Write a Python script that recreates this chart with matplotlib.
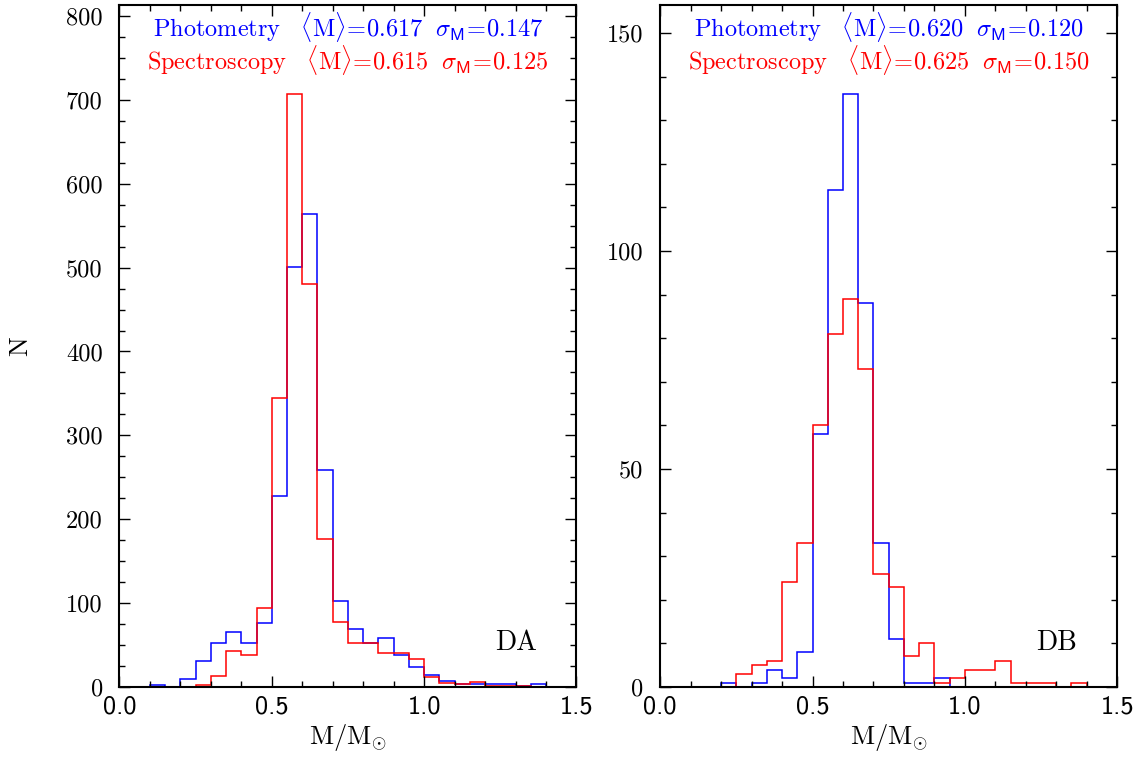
import numpy as np
import matplotlib
matplotlib.use("Agg")
import matplotlib.pyplot as plt
from matplotlib.ticker import MultipleLocator

plt.rcParams["mathtext.fontset"] = "cm"

# Mass bins (M/Msun), 0.05 wide
edges = np.round(np.arange(0.0, 1.5001, 0.05), 2)

# DA white dwarfs: counts per bin
da_phot = [0, 0, 2, 0, 9, 31, 52, 66, 52, 76, 228, 501, 564, 259, 103,
           69, 53, 58, 38, 24, 14, 7, 4, 4, 3, 3, 1, 3, 0, 0]
da_spec = [0, 0, 0, 0, 0, 2, 13, 43, 38, 94, 345, 707, 481, 177, 77,
           52, 53, 41, 40, 33, 12, 5, 4, 6, 1, 1, 1, 0, 0, 0]

# DB white dwarfs: counts per bin
db_phot = [0, 0, 0, 0, 1, 0, 1, 4, 2, 8, 58, 114, 136, 88, 33,
           11, 1, 1, 2, 0, 0, 0, 0, 0, 0, 0, 0, 0, 0, 0]
db_spec = [0, 0, 0, 0, 0, 3, 5, 6, 24, 33, 60, 81, 89, 73, 26,
           23, 7, 10, 1, 2, 4, 4, 6, 1, 1, 1, 0, 1, 0, 0]

panel_names = ["DA", "DB"]
phot_mean = ["0.617", "0.620"]
phot_sigma = ["0.147", "0.120"]
spec_mean = ["0.615", "0.625"]
spec_sigma = ["0.125", "0.150"]

BLUE = "#0000ff"
RED = "#ff0000"

fig = plt.figure(figsize=(11.41, 7.70), dpi=100)
ax_da = fig.add_axes([0.1047, 0.1078, 0.4005, 0.8857])
ax_db = fig.add_axes([0.5786, 0.1078, 0.4005, 0.8857])

panels = [
    (ax_da, da_phot, da_spec, 100, 25),
    (ax_db, db_phot, db_spec, 50, 10),
]


def stat_label(name, mean, sigma):
    return (r"$\mathrm{" + name + r"}\ \ \ \langle\mathrm{M}\rangle\!=\!\mathsf{"
            + mean + r"}\ \ \sigma_{\mathsf{M}}\!=\!\mathsf{" + sigma + r"}$")


for i, (ax, phot, spec, ymaj, ymin) in enumerate(panels):
    ax.stairs(phot, edges, color=BLUE, lw=1.1)
    ax.stairs(spec, edges, color=RED, lw=1.1)

    ax.set_xlim(0, 1.5)
    ax.set_ylim(0, 1.15 * max(max(phot), max(spec)))

    ax.xaxis.set_major_locator(MultipleLocator(0.5))
    ax.xaxis.set_minor_locator(MultipleLocator(0.1))
    ax.yaxis.set_major_locator(MultipleLocator(ymaj))
    ax.yaxis.set_minor_locator(MultipleLocator(ymin))

    ax.tick_params(which="both", direction="in", top=True, right=True,
                   width=1.0, colors="black")
    ax.tick_params(which="major", length=8)
    ax.tick_params(which="minor", length=4.5)
    ax.tick_params(axis="y", pad=12, labelsize=17.5)
    ax.tick_params(axis="x", pad=6, labelsize=19)
    for sp in ax.spines.values():
        sp.set_linewidth(1.5)

    for lab in ax.get_yticklabels():
        lab.set_family("cmr10")
    for lab in ax.get_xticklabels():
        lab.set_family("cmss10")

    ax.set_xlabel(r"$\mathrm{M/M_{\odot}}$", fontsize=19, labelpad=3)

    ax.text(0.5, 0.954, stat_label("Photometry", phot_mean[i], phot_sigma[i]),
            transform=ax.transAxes, ha="center", va="baseline",
            color=BLUE, fontsize=17.5)
    ax.text(0.5, 0.906, stat_label("Spectroscopy", spec_mean[i], spec_sigma[i]),
            transform=ax.transAxes, ha="center", va="baseline",
            color=RED, fontsize=17.5)
    ax.text(0.867, 0.054, panel_names[i], transform=ax.transAxes,
            ha="center", va="baseline", fontsize=20, family="cmr10")

ax_da.set_ylabel("N", fontsize=19, family="cmr10")
ax_da.yaxis.set_label_coords(-0.19, 0.5)

fig.savefig("out.png", dpi=100)
